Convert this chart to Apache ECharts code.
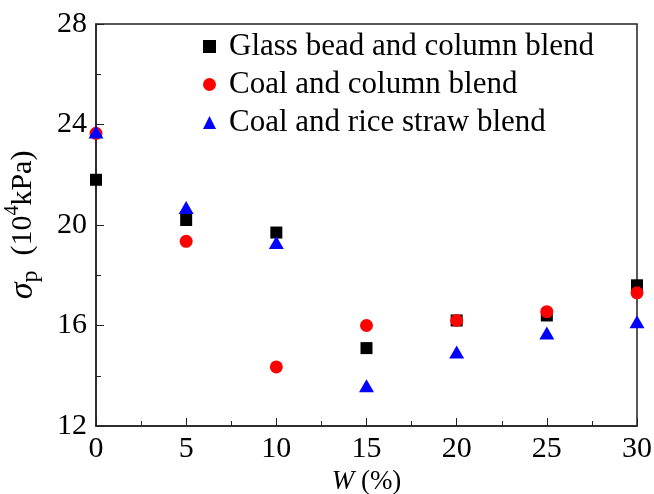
<!DOCTYPE html>
<html>
<head>
<meta charset="utf-8">
<script src="https://cdn.jsdelivr.net/npm/echarts@6/dist/echarts.min.js"></script>
<style>
  html, body { margin: 0; padding: 0; background: #fff; }
  #chart { width: 654px; height: 494px; }
</style>
</head>
<body>
<div id="chart"></div>
<script>
// blend ratio W (%)
const wValues = [0, 5, 10, 15, 20, 25, 30];
// sigma_p (10^4 kPa)
const glassColumn = [21.8, 20.2, 19.7, 15.1, 16.2, 16.4, 17.6];
const coalColumn = [23.65, 19.35, 14.35, 16.0, 16.2, 16.55, 17.3];
const coalStraw = [23.7, 20.7, 19.3, 13.6, 14.95, 15.7, 16.15];
const seriesNames = ['Glass bead and column blend', 'Coal and column blend', 'Coal and rice straw blend'];

const font = "'Liberation Serif', serif";

function pairs(ys) {
  return wValues.map((w, i) => [w, ys[i]]);
}

let chart = echarts.init(document.getElementById('chart'));
let option = {
  animation: false,
  grid: { left: 96, right: 17, top: 24, bottom: 68, outerBoundsMode: 'none' },
  legend: {
    orient: 'vertical',
    left: 198,
    top: 26,
    itemWidth: 13,
    itemHeight: 13,
    itemGap: 7,
    textStyle: { fontFamily: font, fontSize: 31, color: '#000', padding: [0, 0, 0, 8] },
    data: seriesNames
  },
  xAxis: {
    type: 'value',
    min: 0, max: 30, interval: 5,
    name: '{i|W}{n| (%)}',
    nameLocation: 'middle',
    nameGap: 40,
    nameTextStyle: {
      rich: {
        i: { fontFamily: font, fontSize: 27, fontStyle: 'italic', color: '#000' },
        n: { fontFamily: font, fontSize: 27, color: '#000' }
      }
    },
    axisLine: { show: true, onZero: false, lineStyle: { color: '#222', width: 1.5 } },
    axisTick: { inside: true, length: 8, lineStyle: { color: '#222' } },
    minorTick: { show: true, splitNumber: 2, length: 5, lineStyle: { color: '#222' } },
    splitLine: { show: false },
    axisLabel: { fontFamily: font, fontSize: 30, color: '#000', margin: 8 }
  },
  yAxis: {
    type: 'value',
    min: 12, max: 28, interval: 4,
    name: '{s|σ}{p|p}{n|  (10}{sup|4}{n|kPa)}',
    nameLocation: 'middle',
    nameRotate: 90,
    nameGap: 53,
    nameTextStyle: {
      rich: {
        s: { fontFamily: font, fontSize: 34, fontStyle: 'italic', color: '#000' },
        p: { fontFamily: font, fontSize: 24, color: '#000', verticalAlign: 'bottom', padding: [16, 0, 0, 0] },
        n: { fontFamily: font, fontSize: 30, color: '#000' },
        sup: { fontFamily: font, fontSize: 20, color: '#000', verticalAlign: 'top', padding: [0, 0, 14, 0] }
      }
    },
    axisLine: { show: true, onZero: false, lineStyle: { color: '#222', width: 1.5 } },
    axisTick: { inside: true, length: 8, lineStyle: { color: '#222' } },
    minorTick: { show: true, splitNumber: 2, length: 5, lineStyle: { color: '#222' } },
    splitLine: { show: false },
    axisLabel: { fontFamily: font, fontSize: 30, color: '#000', margin: 9 }
  },
  series: [
    {
      name: seriesNames[0], type: 'scatter', symbol: 'rect', symbolSize: 12,
      itemStyle: { color: '#000', opacity: 1 }, data: pairs(glassColumn)
    },
    {
      name: seriesNames[1], type: 'scatter', symbol: 'circle', symbolSize: 13,
      itemStyle: { color: '#ff0000', opacity: 1 }, data: pairs(coalColumn)
    },
    {
      name: seriesNames[2], type: 'scatter', symbol: 'triangle', symbolSize: [15, 13],
      itemStyle: { color: '#0000ff', opacity: 1 }, data: pairs(coalStraw)
    }
  ],
  graphic: [{
    type: 'rect',
    shape: { x: 96, y: 24, width: 541, height: 402 },
    style: { fill: 'none', stroke: '#222', lineWidth: 1.5 },
    silent: true
  }]
};
chart.setOption(option);
</script>
</body>
</html>
